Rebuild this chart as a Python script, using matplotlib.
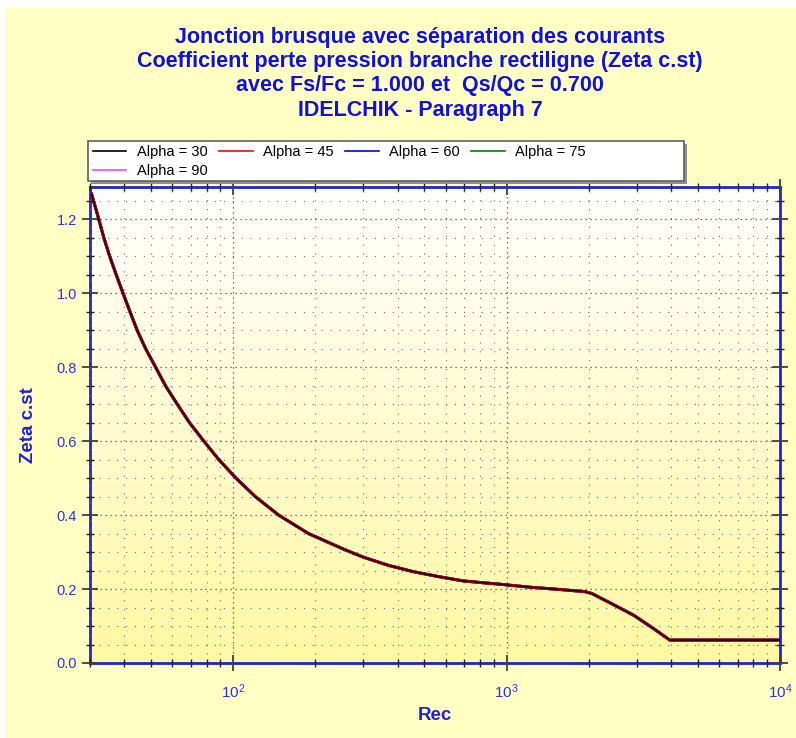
import numpy as np
import matplotlib
matplotlib.use('Agg')
import matplotlib.pyplot as plt
from matplotlib.patches import Rectangle
from matplotlib.ticker import LogLocator, MultipleLocator, NullFormatter

plt.rcParams['font.family'] = ['Liberation Sans', 'DejaVu Sans']

# values (all five alphas give the same curve)
rec = [30.4, 32.3, 33.7, 35.4, 37.4, 39.6, 42.0, 44.6, 47.9, 52.1, 56.6, 62.5,
       69.3, 78.2, 88.7, 102.5, 120.6, 146.8, 188.8, 257, 300, 370, 456, 570,
       694, 820, 947, 1216, 1550, 1934, 2050, 2400, 2904, 3450, 3954, 6000,
       10000]
zeta = [1.268, 1.20, 1.15, 1.10, 1.05, 1.00, 0.95, 0.90, 0.85, 0.80, 0.75,
        0.70, 0.65, 0.60, 0.55, 0.50, 0.45, 0.40, 0.35, 0.306, 0.286, 0.264,
        0.247, 0.233, 0.222, 0.217, 0.213, 0.205, 0.199, 0.193, 0.188, 0.162,
        0.130, 0.093, 0.062, 0.062, 0.062]
alphas = [30, 45, 60, 75, 90]
colors = ['black', 'red', 'blue', 'green', '#ff40ff']

title = ("Jonction brusque avec séparation des courants\n"
         "Coefficient perte pression branche rectiligne (Zeta c.st)\n"
         "avec Fs/Fc = 1.000 et  Qs/Qc = 0.700\n"
         "IDELCHIK - Paragraph 7")

fig = plt.figure(figsize=(7.96, 7.38), dpi=100, facecolor='#ffffc4')
# thin white margin at the top and left of the picture
fig.patches.append(Rectangle((0, 1 - 8 / 738), 1, 8 / 738,
                             transform=fig.transFigure, facecolor='white',
                             edgecolor='none', zorder=0))
fig.patches.append(Rectangle((0, 0), 5 / 796, 1, transform=fig.transFigure,
                             facecolor='white', edgecolor='none', zorder=0))

ax = fig.add_axes([90 / 796, 1 - 663 / 738, 690 / 796, 476 / 738])

# white-to-yellow gradient in the plot area
grad = np.linspace(0, 1, 256).reshape(-1, 1)
top = np.array([1.0, 1.0, 1.0])
bot = np.array([1.0, 0.975, 0.64])
img = top + (bot - top) * grad[:, :, None]
ax.imshow(img, extent=[0, 1, 0, 1], transform=ax.transAxes, aspect='auto',
          zorder=0, origin='upper')

handles = {}
for a, c in zip(alphas, colors):
    h, = ax.plot([], [], color=c, lw=1.2, label='Alpha = %d' % a)
    handles[a] = h
# the curves overlap exactly; drawn back to front
for a, c in reversed(list(zip(alphas, colors))):
    if c == 'black':
        ax.plot(rec, zeta, color=c, lw=1.4, alpha=0.8, zorder=3)
    else:
        ax.plot(rec, zeta, color=c, lw=2.1, zorder=2)

ax.set_xscale('log')
ax.set_xlim(30, 1e4)
ax.set_ylim(0, 1.287)
ax.yaxis.set_major_locator(MultipleLocator(0.2))
ax.yaxis.set_minor_locator(MultipleLocator(0.05))
ax.xaxis.set_major_locator(LogLocator(base=10))
ax.xaxis.set_minor_locator(LogLocator(base=10, subs=np.arange(2, 10)))
ax.xaxis.set_minor_formatter(NullFormatter())
ax.yaxis.set_major_formatter(plt.FormatStrFormatter('%.1f'))

ax.grid(True, which='major', color='#505050', linestyle=(0, (1, 3)), lw=0.9)
ax.grid(True, which='minor', color='#707070', linestyle=(0, (1, 7)), lw=0.8)
ax.set_axisbelow(False)

for s in ax.spines.values():
    s.set_color('#2020e0')
    s.set_linewidth(2)

ax.tick_params(which='major', direction='inout', length=12, width=1.3,
               color='#404040', labelcolor='#3030f0', labelsize=10.5,
               top=True, right=True)
ax.tick_params(which='minor', direction='inout', length=6, width=1.0,
               color='#202020', top=True, right=True)
ax.tick_params(axis='x', which='major', pad=8, labelsize=11)

ax.set_xlabel('Rec', color='#2020e0', fontsize=13.5, fontweight='bold',
              labelpad=4)
ax.set_ylabel('Zeta c.st', color='#2020e0', fontsize=13.5, fontweight='bold',
              labelpad=14)

fig.text(0.528, 1 - 27 / 738, title, ha='center', va='top', color='#1010e0',
         fontsize=15.5, fontweight='bold', linespacing=1.2)

# legend box with shadow
bx, by, bw, bh = 88 / 796, 1 - 181 / 738, 596 / 796, 40 / 738
fig.patches.append(Rectangle((bx + 3 / 796, by - 3 / 738), bw, bh,
                             transform=fig.transFigure, facecolor='#909090',
                             edgecolor='none', zorder=1))
fig.patches.append(Rectangle((bx, by), bw, bh, transform=fig.transFigure,
                             facecolor='white', edgecolor='#606060', lw=1.2,
                             zorder=2))
order = [30, 90, 45, 60, 75]
leg = fig.legend(handles=[handles[a] for a in order], loc='upper left',
                 ncol=4, bbox_to_anchor=(bx + 2 / 796, by + bh - 1 / 738),
                 fontsize=10.5, frameon=False, borderaxespad=0,
                 handlelength=2.3, handletextpad=0.7, columnspacing=0.8,
                 labelspacing=0.35, borderpad=0.2)

fig.savefig('out.png', dpi=100, facecolor=fig.get_facecolor())
